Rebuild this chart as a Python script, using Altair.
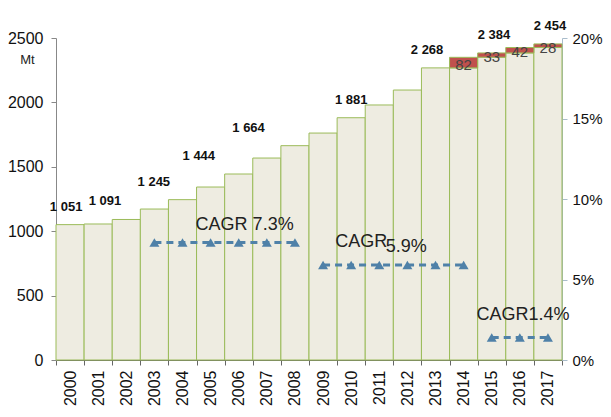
import altair as alt
import pandas as pd

# ---- data ----
years = list(range(2000, 2018))
base = [1051, 1056, 1091, 1172, 1245, 1343, 1444, 1568, 1664, 1762,
        1881, 1980, 2096, 2268, 2268, 2351, 2384, 2426]
added = [0] * 14 + [82, 33, 42, 28]

label_text = ["1 051", "1 091", "1 245", "1 444", "1 664", "1 881", "2 268", "2 384", "2 454"]
label_value = [1051, 1091, 1245, 1444, 1664, 1881, 2268, 2384, 2454]
label_pos = [1999.86, 2001.24, 2002.98, 2004.58, 2006.35, 2010.0, 2012.7, 2015.08, 2017.07]

cagr_a_years = [2003, 2004, 2005, 2006, 2007, 2008]
cagr_b_years = [2009, 2010, 2011, 2012, 2013, 2014]
cagr_c_years = [2015, 2016, 2017]
cagr_values = [7.3, 5.9, 1.4]

cagr_text = ["CAGR 7.3%", "CAGR", "5.9%", "CAGR1.4%"]
cagr_text_x = [2006.21, 2010.36, 2011.96, 2016.11]
cagr_text_y = [8.39, 7.33, 7.02, 2.80]

# ---- tables ----
bars = pd.DataFrame({"year": years, "base": base, "added": added})
bars["total"] = bars["base"] + bars["added"]
bars["mid"] = bars["base"] + bars["added"] / 2
red = bars[bars["added"] > 0]

labels = pd.DataFrame({"text": label_text, "value": label_value, "pos": label_pos})

rows = []
for name, yrs, v in zip(["a", "b", "c"], [cagr_a_years, cagr_b_years, cagr_c_years], cagr_values):
    for y in yrs:
        rows.append({"series": name, "year": y, "pct": v})
cagr = pd.DataFrame(rows)
ctext = pd.DataFrame({"text": cagr_text, "x": cagr_text_x, "y": cagr_text_y})

FONT = "Liberation Sans"
BEIGE = "#EEECE1"
GREEN = "#9BBB59"
RED = "#C0504D"
BLUE = "#4F81A8"

xband = alt.Scale(domain=years, paddingInner=0, paddingOuter=0)
xq = alt.Scale(domain=[1999.5, 2017.5], nice=False, zero=False)
yl = alt.Scale(domain=[0, 2500], nice=False)
yr = alt.Scale(domain=[0, 20], nice=False)

beige_bars = alt.Chart(bars).mark_bar(fill=BEIGE, stroke=GREEN, strokeWidth=1).encode(
    x=alt.X("year:O", scale=xband, title=None,
            axis=alt.Axis(labelAngle=-90, tickBand="extent", labelFontSize=16, labelFont=FONT,
                          labelColor="#111", domainColor="#666", tickColor="#666",
                          tickSize=5, labelPadding=5, labelBaseline="middle")),
    y=alt.Y("base:Q", scale=yl,
            axis=alt.Axis(values=[0, 500, 1000, 1500, 2000, 2500], grid=False, format="d",
                          labelFontSize=16, labelFont=FONT, labelColor="#111",
                          domainColor="#888", tickColor="#888", tickSize=5, labelPadding=8,
                          title="Mt", titleAngle=0, titleX=-29, titleY=28,
                          titleFontSize=13, titleFontWeight="normal", titleFont=FONT,
                          titleColor="#222", titleAlign="center")),
)

red_bars = alt.Chart(red).mark_bar(fill=RED, stroke=GREEN, strokeWidth=1).encode(
    x=alt.X("year:O", scale=xband, axis=None),
    y=alt.Y("base:Q", scale=yl, axis=None),
    y2="total:Q",
)

value_labels = alt.Chart(labels).mark_text(
    font=FONT, fontWeight="bold", fontSize=13, color="#111",
    baseline="middle", dy=-18
).encode(
    x=alt.X("pos:Q", scale=xq, axis=None),
    y=alt.Y("value:Q", scale=yl, axis=None),
    text="text:N",
)

red_labels = alt.Chart(red).mark_text(
    font=FONT, fontSize=15, color="#444", baseline="middle", dy=2
).encode(
    x=alt.X("year:Q", scale=xq, axis=None),
    y=alt.Y("mid:Q", scale=yl, axis=None),
    text="added:Q",
)

cagr_lines = alt.Chart(cagr).mark_line(color=BLUE, strokeWidth=3, strokeDash=[7, 5]).encode(
    x=alt.X("year:Q", scale=xq, axis=None),
    y=alt.Y("pct:Q", scale=yr,
            axis=alt.Axis(orient="right", values=[0, 5, 10, 15, 20], grid=False,
                          labelExpr="datum.value + '%'", labelFontSize=15, labelFont=FONT,
                          labelColor="#111", domainColor="#A9BCCB", tickColor="#A9BCCB",
                          tickSize=5, labelPadding=5, title=None)),
    detail="series:N",
)

cagr_pts = alt.Chart(cagr).mark_point(shape="triangle-up", filled=True, size=100,
                                       color=BLUE, opacity=1).encode(
    x=alt.X("year:Q", scale=xq, axis=None),
    y=alt.Y("pct:Q", scale=yr, axis=None),
)

cagr_labels = alt.Chart(ctext).mark_text(font=FONT, fontSize=18, color="#222",
                                         baseline="middle").encode(
    x=alt.X("x:Q", scale=xq, axis=None),
    y=alt.Y("y:Q", scale=yr, axis=None),
    text="text:N",
)

chart = alt.layer(
    beige_bars, red_bars, value_labels, red_labels, cagr_lines, cagr_pts, cagr_labels
).resolve_scale(
    x="independent", y="independent"
).properties(
    width=506, height=322,
    autosize=alt.AutoSizeParams(type="none"),
    padding={"left": 48, "top": 30, "right": 41, "bottom": 49},
).configure_view(stroke=None)

chart.save("out.html", embed_options={"renderer": "svg", "actions": False})
